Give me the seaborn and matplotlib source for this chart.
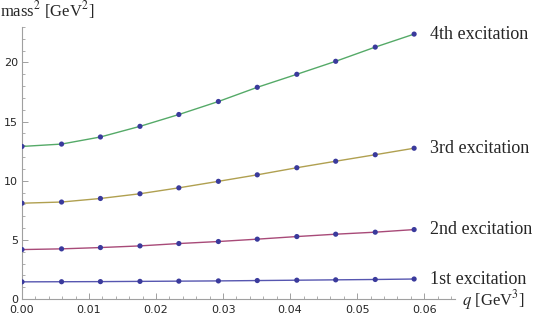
"""Excitation masses vs q (seaborn)."""

import matplotlib
matplotlib.use("Agg")
import matplotlib.pyplot as plt
from matplotlib.ticker import MultipleLocator, FormatStrFormatter
import pandas as pd
import seaborn as sns

q = [0.0, 0.0059, 0.0117, 0.0176, 0.0234, 0.0293, 0.0351, 0.041, 0.0468, 0.0527, 0.0585]
first = [1.45, 1.46, 1.47, 1.49, 1.51, 1.53, 1.56, 1.59, 1.62, 1.65, 1.69]
second = [4.18, 4.24, 4.35, 4.49, 4.69, 4.86, 5.06, 5.28, 5.48, 5.65, 5.87]
third = [8.1, 8.2, 8.5, 8.9, 9.4, 9.95, 10.5, 11.1, 11.65, 12.2, 12.75]
fourth = [12.9, 13.1, 13.7, 14.6, 15.6, 16.7, 17.9, 19.0, 20.1, 21.3, 22.4]
names = ["1st excitation", "2nd excitation", "3rd excitation", "4th excitation"]
colors = ["#5656b0", "#a84a78", "#b0a050", "#55aa68"]
point_color = "#3a3a9c"

df = pd.concat(
    [pd.DataFrame({"q": q, "m2": v, "level": n})
     for n, v in zip(names, [first, second, third, fourth])],
    ignore_index=True,
)

sns.set_theme(style="ticks")
plt.rcParams["font.family"] = ["DejaVu Sans"]
plt.rcParams["mathtext.fontset"] = "stix"

fig = plt.figure(figsize=(5.33, 3.16), dpi=100)
ax = fig.add_axes([22 / 533, 17 / 316, 433 / 533, 272 / 316])

sns.lineplot(data=df, x="q", y="m2", hue="level", palette=colors,
             linewidth=1.0, legend=False, ax=ax, sort=True)
sns.scatterplot(data=df, x="q", y="m2", color=point_color, s=14,
                edgecolor="none", legend=False, ax=ax, zorder=3)

# labels at the right end of each curve
for n, v in zip(names, [first, second, third, fourth]):
    ax.annotate(n, xy=(q[-1], v[-1]), xytext=(16, 0), textcoords="offset pixels",
                va="center", ha="left", fontsize=13, family="Liberation Serif",
                annotation_clip=False)

ax.set_xlim(0, 0.0646)
ax.set_ylim(0, 23)
ax.xaxis.set_major_locator(MultipleLocator(0.01))
ax.xaxis.set_minor_locator(MultipleLocator(0.002))
ax.xaxis.set_major_formatter(FormatStrFormatter("%.2f"))
ax.yaxis.set_major_locator(MultipleLocator(5))
ax.yaxis.set_minor_locator(MultipleLocator(1))
ax.set_xlabel("")
ax.set_ylabel("")

for side in ["top", "right"]:
    ax.spines[side].set_visible(False)
for side in ["left", "bottom"]:
    ax.spines[side].set_color("#a0a0a0")
    ax.spines[side].set_linewidth(0.8)
ax.tick_params(which="both", direction="in", color="#a0a0a0", labelsize=8)
ax.tick_params(axis="x", which="major", length=4, width=0.7, pad=4.5)
ax.tick_params(axis="y", which="major", length=4, width=0.7, pad=3)
ax.tick_params(which="minor", length=2, width=0.6)

ax.annotate("mass$^2$ [GeV$^2$]", xy=(0, 1), xycoords="axes fraction",
            xytext=(-22, 17), textcoords="offset pixels", ha="left", va="center",
            fontsize=12, family="Liberation Serif", annotation_clip=False)
ax.annotate("$q$ [GeV$^3$]", xy=(1, 0), xycoords="axes fraction",
            xytext=(7, -1), textcoords="offset pixels", ha="left", va="center",
            fontsize=12, family="Liberation Serif", annotation_clip=False)

fig.savefig("out.png", dpi=100)
plt.close(fig)
